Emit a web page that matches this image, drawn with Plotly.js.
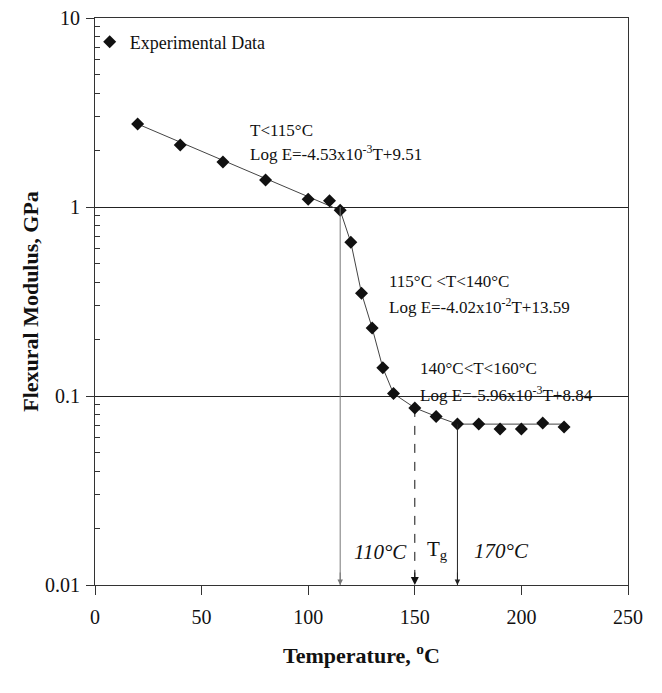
<!DOCTYPE html>
<html>
<head>
<meta charset="utf-8">
<script src="https://cdn.plot.ly/plotly-3.0.1.min.js"></script>
<style>html,body{margin:0;padding:0;background:#fff;}#chart{width:662px;height:693px;}</style>
</head>
<body>
<div id="chart"></div>
<script>
// Experimental data (temperature in °C, flexural modulus in GPa)
const temps = [20, 40, 60, 80, 100, 110, 115, 120, 125, 130, 135, 140, 150, 160, 170, 180, 190, 200, 210, 220];
const modulus = [2.75, 2.13, 1.73, 1.39, 1.10, 1.08, 0.96, 0.65, 0.35, 0.229, 0.141, 0.103, 0.0865, 0.078, 0.071, 0.071, 0.0668, 0.0668, 0.072, 0.0685];

// Fitted trend line vertices
const fitT = [20, 115, 120, 125, 130, 135, 140, 150, 160, 170, 220];
const fitE = [2.75, 0.96, 0.65, 0.35, 0.229, 0.141, 0.103, 0.0865, 0.078, 0.071, 0.071];

// Vertical marker arrows (temperature, top value, style)
const arrowT = [115, 150, 170];
const arrowTop = [1.0, 0.0865, 0.071];
const arrowDash = ['solid', 'dash', 'solid'];
const arrowColor = ['#777777', '#111111', '#222222'];

// Axis ticks
const xTicks = [0, 50, 100, 150, 200, 250];
const yTicks = [0.01, 0.1, 1, 10];
const yTickText = ['0.01', '0.1', '1', '10'];
const yMinor = [];
[0.01, 0.1, 1].forEach(d => { for (let k = 2; k <= 9; k++) yMinor.push(d * k); });

const serif = 'Liberation Serif, Times New Roman, serif';
const yMin = 0.01;

const traces = [
  {x: fitT, y: fitE, mode: 'lines', type: 'scatter', showlegend: false, hoverinfo: 'skip',
   line: {color: '#444', width: 1}},
  {x: temps, y: modulus, mode: 'markers', type: 'scatter', name: 'Experimental Data',
   marker: {symbol: 'diamond', size: 10, color: '#111'}},
  {x: [0], y: [1], yaxis: 'y2', mode: 'markers', marker: {opacity: 0}, showlegend: false, hoverinfo: 'skip'}
];

const shapes = arrowT.map((t, i) => ({
  type: 'line', xref: 'x', yref: 'y', x0: t, x1: t, y0: arrowTop[i], y1: yMin,
  line: {color: arrowColor[i], width: 1, dash: arrowDash[i]}
}));

const annotations = [];
arrowT.forEach((t, i) => {
  annotations.push({x: t, y: Math.log10(yMin), xref: 'x', yref: 'y', ax: 0, ay: -14, text: '',
    showarrow: true, arrowhead: 2, arrowsize: i === 1 ? 1.6 : 1.1, arrowwidth: 1, arrowcolor: arrowColor[i], standoff: 0});
});

function txt(t, x, yl, size, extra) {
  return Object.assign({text: t, x: x, y: yl, xref: 'x', yref: 'y', showarrow: false, xanchor: 'left', yanchor: 'middle',
    font: {family: serif, size: size, color: '#111'}}, extra || {});
}
annotations.push(txt('T&lt;115°C', 71.8, 0.407, 17));
annotations.push(txt('Log E=-4.53x10<sup>-3</sup>T+9.51', 71.8, 0.286, 17));
annotations.push(txt('115°C &lt;T&lt;140°C', 137, -0.392, 17));
annotations.push(txt('Log E=-4.02x10<sup>-2</sup>T+13.59', 137, -0.524, 17));
annotations.push(txt('140°C&lt;T&lt;160°C', 151.5, -0.852, 17));
annotations.push(txt('Log E=-5.96x10<sup>-3</sup>T+8.84', 151.5, -0.989, 17));
annotations.push(txt('<i>110°C</i>', 120.5, -1.825, 21));
annotations.push(txt('T<sub>g</sub>', 155, -1.815, 21));
annotations.push(txt('<i>170°C</i>', 176.8, -1.82, 21));

const layout = {
  width: 662, height: 693,
  margin: {l: 95, r: 34, t: 18, b: 108},
  paper_bgcolor: '#fff', plot_bgcolor: '#fff',
  font: {family: serif, color: '#111'},
  showlegend: true,
  legend: {x: -0.01, y: 0.99, xanchor: 'left', yanchor: 'top', bgcolor: 'rgba(0,0,0,0)',
    font: {family: serif, size: 18, color: '#111'}, itemwidth: 30},
  xaxis: {range: [0, 250], tickvals: xTicks, ticks: 'outside', ticklen: 9, tickcolor: '#333',
    showgrid: false, zeroline: false, showline: true, linecolor: '#333', linewidth: 1, mirror: true,
    tickfont: {family: serif, size: 20, color: '#111'}, ticklabelstandoff: 5,
    title: {text: '<b>Temperature, <sup>o</sup>C</b>', font: {family: serif, size: 22, color: '#111'}, standoff: 20}},
  yaxis: {type: 'log', range: [-2, 1], tickvals: yTicks, ticktext: yTickText, ticks: 'outside', ticklen: 8,
    tickcolor: '#333', showgrid: true, gridcolor: '#222', gridwidth: 1, zeroline: false,
    showline: true, linecolor: '#333', linewidth: 1, mirror: true,
    tickfont: {family: serif, size: 20, color: '#111'}, ticklabelstandoff: 2,
    title: {text: '<b>Flexural Modulus, GPa</b>', font: {family: serif, size: 22, color: '#111'}, standoff: 0}},
  yaxis2: {type: 'log', range: [-2, 1], overlaying: 'y', side: 'left', tickvals: yMinor, ticks: 'inside',
    ticklen: 5, tickcolor: '#333', showticklabels: false, showgrid: false, zeroline: false, showline: false},
  shapes: shapes,
  annotations: annotations
};

Plotly.newPlot('chart', traces, layout, {displayModeBar: false, staticPlot: true});
</script>
</body>
</html>
